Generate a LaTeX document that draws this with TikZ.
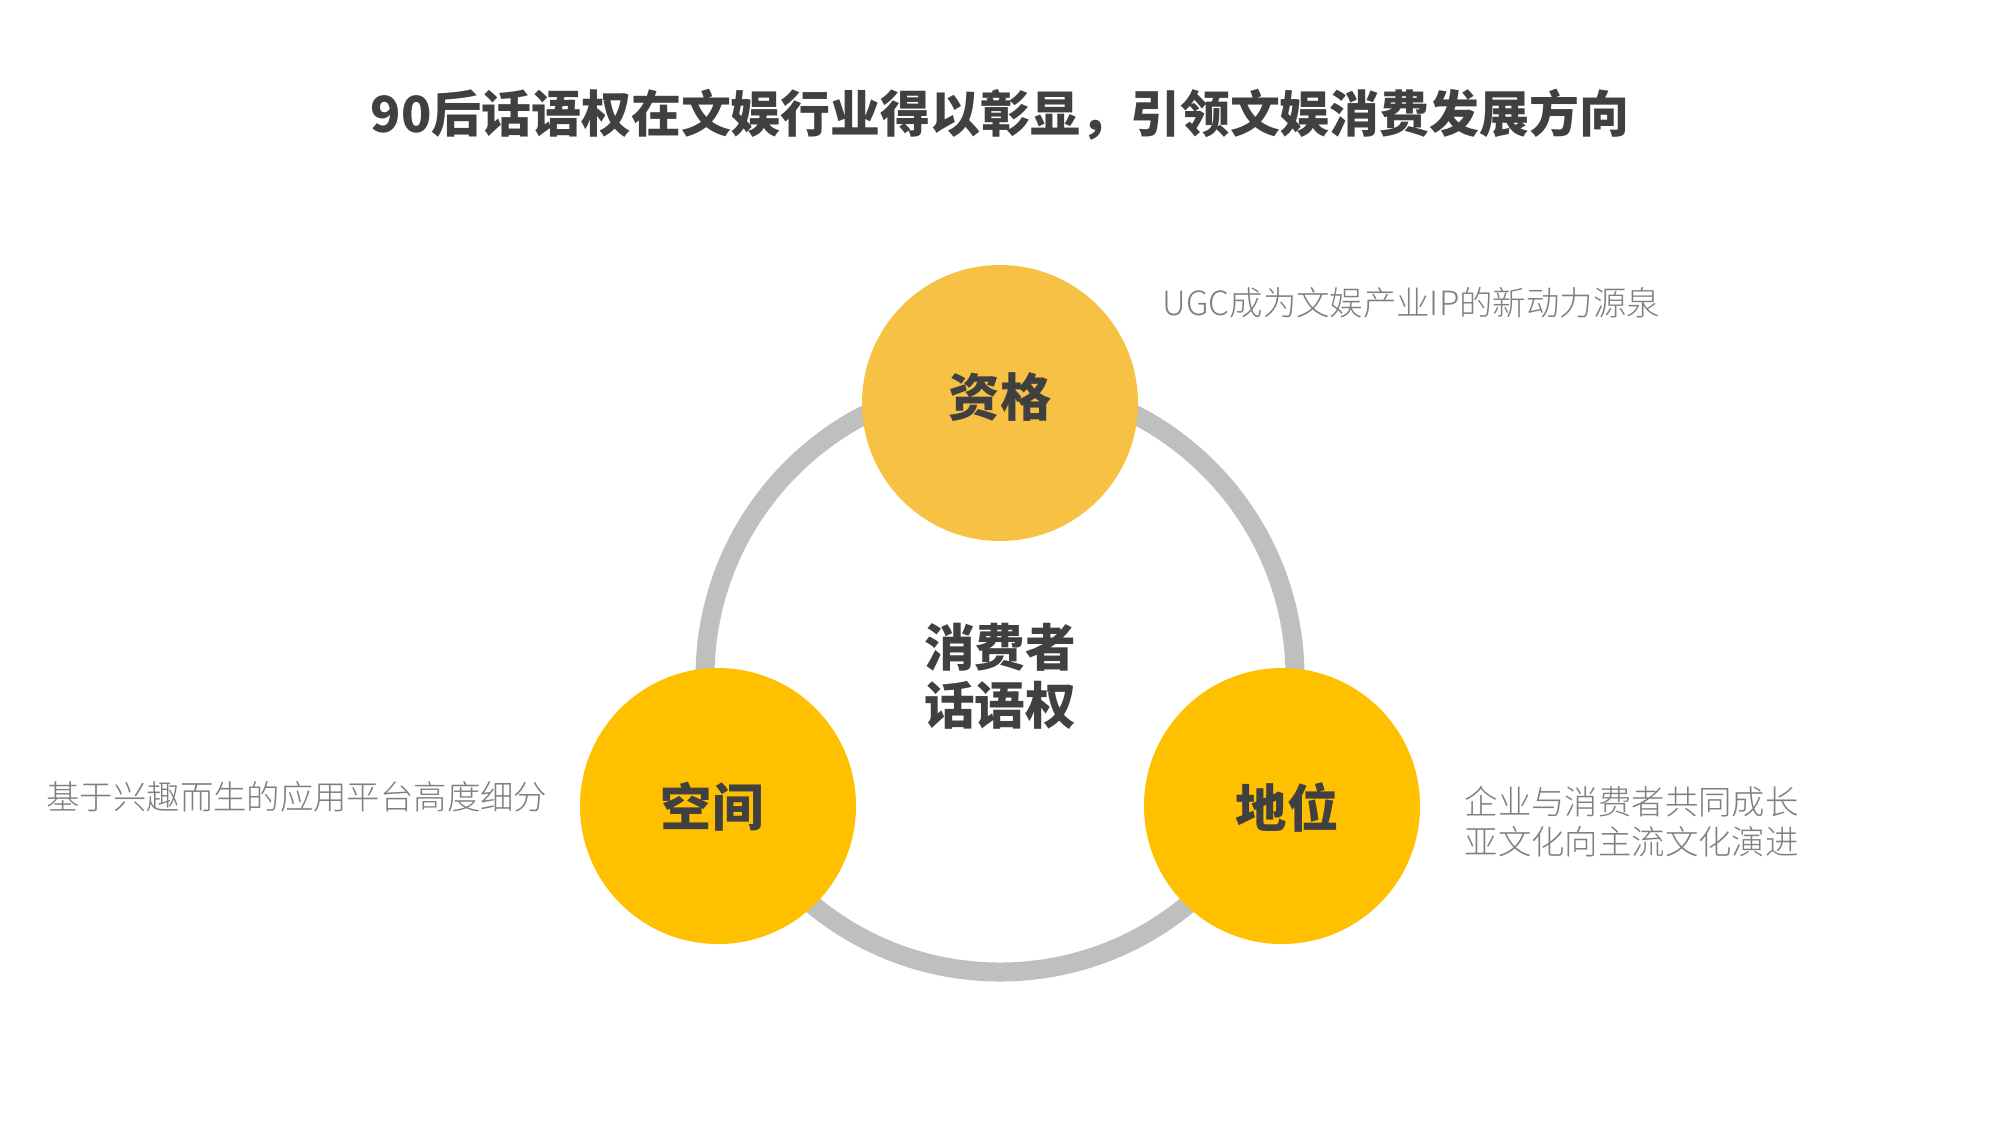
\documentclass[tikz,border=0pt]{standalone}
\usepackage{fontspec}
\setmainfont{Noto Sans CJK SC}
\newfontfamily\heavycjk{Noto Sans CJK SC Black}
\newfontfamily\lightcjk{Noto Sans CJK SC Light}
\usepackage{tikz}
\usetikzlibrary{positioning}
\definecolor{ringgray}{RGB}{191,191,191}
\definecolor{topgold}{RGB}{247,193,67}
\definecolor{lowgold}{RGB}{255,192,0}
\definecolor{darktext}{RGB}{64,64,64}
\definecolor{desctext}{RGB}{127,127,127}

\begin{document}
\begin{tikzpicture}[
    ring/.style={draw=ringgray, line width=0.19cm},
    bubble/.style={circle, inner sep=0pt, minimum size=2.76cm},
    tag/.style={text=darktext, inner sep=0pt, font=\fontsize{14.6}{16}\selectfont\heavycjk},
    hub/.style={align=center, text=darktext, inner sep=0pt, font=\fontsize{14.4}{16.5}\selectfont\heavycjk},
    desc/.style={text=desctext, inner sep=0pt, align=left, font=\fontsize{9.5}{11.4}\selectfont\lightcjk},
    headline/.style={text=darktext, inner sep=0pt, font=\fontsize{14.2}{16}\selectfont\heavycjk}
  ]
  \useasboundingbox[fill=white] (0,0) rectangle (20,-11.25);

  % Title
  \node[headline] (title) at (10,-1.15) {90后话语权在文娱行业得以彰显，引领文娱消费发展方向};

  % Ring
  \coordinate (ctr) at (10,-6.77);
  \draw[ring] (ctr) circle (2.95);

  % Bubbles
  \node[bubble, fill=topgold] (zige) at (10,-4.03) {};
  \node[bubble, fill=lowgold] (kongjian) at (7.18,-8.06) {};
  \node[bubble, fill=lowgold] (diwei) at (12.82,-8.06) {};
  \node[tag] (tzige) at (10,-3.97) {资格};
  \node[tag] (tkongjian) at (7.12,-8.07) {空间};
  \node[tag] (tdiwei) at (12.87,-8.07) {地位};

  % Centre
  \node[hub] (hub) at (10,-6.76) {消费者\\话语权};

  % Descriptions
  \node[desc, anchor=west] (dzige) at (11.62,-3.03) {UGC成为文娱产业IP的新动力源泉};
  \node[desc, anchor=east] (dkongjian) at (5.48,-7.97) {基于兴趣而生的应用平台高度细分};
  \node[desc, anchor=west] (ddiwei) at (14.64,-8.22) {企业与消费者共同成长\\亚文化向主流文化演进};
\end{tikzpicture}
\end{document}
